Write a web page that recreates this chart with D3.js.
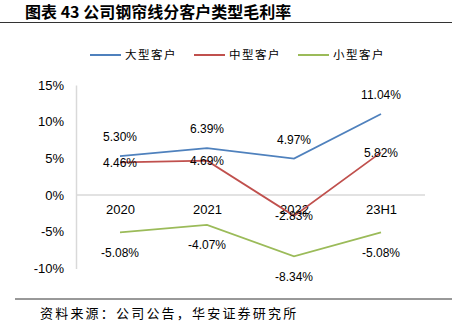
<!DOCTYPE html>
<html><head><meta charset="utf-8">
<script src="https://cdn.jsdelivr.net/npm/d3@7"></script>
<style>body{margin:0;background:#fff}svg{display:block}</style>
</head><body>
<script>
const categories = ["2020","2021","2022","23H1"];
const seriesNames = ["大型客户","中型客户","小型客户"];
const large = [5.30, 6.39, 4.97, 11.04];
const medium = [4.46, 4.69, -2.83, 5.82];
const small = [-5.08, -4.07, -8.34, -5.08];
const yTicks = [-10, -5, 0, 5, 10, 15];
const colors = ["#4F81BD","#C0504D","#9BBB59"];
const labelOffsets = [-19, 0, 20];

const W = 465, H = 326;
const svg = d3.select("body").append("svg").attr("width", W).attr("height", H);
const font = "'Liberation Sans', Arial, sans-serif";
const cjk = "'Noto Sans CJK SC', sans-serif";

// title
svg.append("text").attr("x", 25).attr("y", 18).attr("font-family", cjk)
  .attr("font-weight", "bold").attr("font-size", 16).attr("fill", "#000")
  .text("图表 43 公司钢帘线分客户类型毛利率");
svg.append("line").attr("x1", 0).attr("x2", 452).attr("y1", 22.5).attr("y2", 22.5)
  .attr("stroke", "#333").attr("stroke-width", 1);

// scales
const x = d3.scalePoint().domain(categories).range([120, 381]);
const y = d3.scaleLinear().domain([-10, 15]).range([268.5, 85]);

// y axis
const yAxis = d3.axisLeft(y).tickValues(yTicks).tickFormat(d => d + "%").tickSize(0).tickPadding(12);
const ya = svg.append("g").attr("transform", "translate(76,0)").call(yAxis);
ya.select(".domain").attr("stroke", "#d9d9d9").attr("stroke-width", 1.5);
ya.selectAll("text").attr("font-family", font).attr("font-size", 13).attr("fill", "#000");

// x axis at 0
const xAxis = d3.axisBottom(x).tickSize(0).tickPadding(10);
const xa = svg.append("g").attr("transform", `translate(0,${y(0)})`).call(xAxis);
xa.select(".domain").remove();
svg.append("line").attr("x1", 76).attr("x2", 425).attr("y1", y(0)).attr("y2", y(0))
  .attr("stroke", "#d9d9d9").attr("stroke-width", 1.5);
xa.selectAll("text").attr("font-family", font).attr("font-size", 13).attr("fill", "#000");

// lines
const data = [large, medium, small];
const line = d3.line().x((d, i) => x(categories[i])).y(d => y(d));
data.forEach((s, k) => {
  svg.append("path").datum(s).attr("d", line).attr("fill", "none")
    .attr("stroke", colors[k]).attr("stroke-width", 1.8);
});
data.forEach((s, k) => {
  svg.selectAll(null).data(s).enter().append("text")
    .attr("x", (d, i) => x(categories[i]))
    .attr("y", d => y(d) + labelOffsets[k])
    .attr("dy", "0.35em").attr("text-anchor", "middle")
    .attr("font-family", font).attr("font-size", 12).attr("fill", "#000")
    .text(d => d.toFixed(2) + "%");
});

// legend
const legX = [90, 194, 298];
seriesNames.forEach((n, k) => {
  svg.append("line").attr("x1", legX[k]).attr("x2", legX[k] + 31).attr("y1", 55).attr("y2", 55)
    .attr("stroke", colors[k]).attr("stroke-width", 2);
  svg.append("text").attr("x", legX[k] + 35).attr("y", 55).attr("dy", "0.35em")
    .attr("font-family", cjk).attr("font-size", 11.5).attr("letter-spacing", 1.5)
    .attr("fill", "#000").text(n);
});

// bottom
svg.append("line").attr("x1", 15).attr("x2", 452).attr("y1", 299).attr("y2", 299)
  .attr("stroke", "#333").attr("stroke-width", 1);
svg.append("text").attr("x", 40).attr("y", 318).attr("font-family", cjk)
  .attr("font-size", 13).attr("letter-spacing", 2.2).attr("fill", "#000")
  .text("资料来源：公司公告，华安证券研究所");
</script>
</body></html>
